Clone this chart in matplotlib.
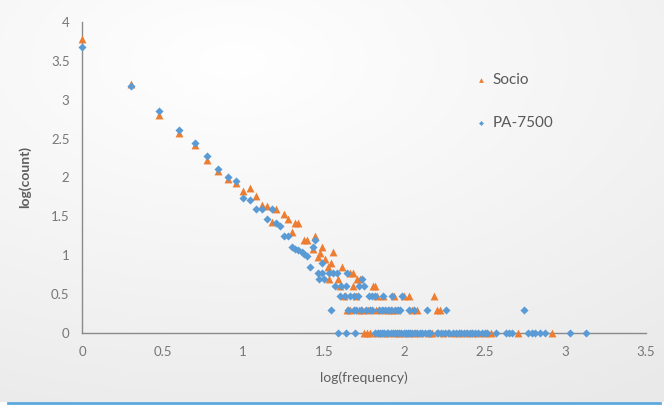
import numpy as np
import matplotlib
matplotlib.use("Agg")
import matplotlib.pyplot as plt
from matplotlib.lines import Line2D

plt.rcParams["font.family"] = ["Lato", "DejaVu Sans"]

# sloped part of each series (log(frequency), log(count))
socio_top_x = [0.0, 0.301, 0.477, 0.602, 0.699, 0.778, 0.845, 0.903, 0.954,
               0.997, 1.041, 1.079, 1.114, 1.146, 1.176, 1.204, 1.255, 1.279,
               1.301, 1.322, 1.342, 1.380, 1.398, 1.431, 1.447, 1.462, 1.477,
               1.491, 1.505, 1.544, 1.556]
socio_top_y = [3.78, 3.20, 2.81, 2.57, 2.42, 2.23, 2.08, 1.98, 1.93,
               1.83, 1.86, 1.76, 1.64, 1.63, 1.43, 1.59, 1.53, 1.46,
               1.30, 1.41, 1.41, 1.20, 1.20, 1.08, 1.25, 0.98, 1.03,
               1.11, 0.95, 0.90, 1.04]

pa_top_x = [0.0, 0.301, 0.477, 0.602, 0.699, 0.778, 0.845, 0.903, 0.954,
            0.997, 1.041, 1.079, 1.114, 1.146, 1.176, 1.204, 1.230, 1.255,
            1.279, 1.301, 1.322, 1.342, 1.362, 1.380, 1.398, 1.431, 1.447,
            1.415, 1.488]
pa_top_y = [3.68, 3.18, 2.86, 2.61, 2.45, 2.27, 2.11, 2.01, 1.95,
            1.73, 1.71, 1.59, 1.59, 1.46, 1.59, 1.41, 1.38, 1.25,
            1.25, 1.11, 1.08, 1.07, 1.04, 1.02, 0.99, 1.10, 1.20,
            0.845, 0.90]

# flat rows at low counts: log(count) level and the log(frequency) of each point
levels = [0.845, 0.778, 0.699, 0.602, 0.477, 0.301, 0.0]

socio_rows_x = [
    [1.525, 1.613],
    [1.663, 1.681],
    [1.531, 1.591, 1.708, 1.724],
    [1.602, 1.684, 1.806, 1.820],
    [1.623, 1.699, 1.833, 1.869, 1.934, 1.996, 2.029, 2.185],
    [1.643, 1.663, 1.720, 1.740, 1.777, 1.825, 1.867, 1.907, 1.922, 1.957,
     2.046, 2.078, 2.204, 2.222],
    [1.750, 1.770, 1.790, 1.830, 1.870, 1.900, 1.940, 1.970, 2.000, 2.030,
     2.060, 2.100, 2.150, 2.170, 2.240, 2.300, 2.340, 2.380, 2.420, 2.460,
     2.500, 2.540, 2.705, 2.915],
]

pa_rows_x = [
    [],
    [1.462, 1.491, 1.531, 1.556, 1.580, 1.643],
    [1.470, 1.500, 1.736],
    [1.570, 1.605, 1.640, 1.720, 1.750],
    [1.600, 1.630, 1.660, 1.690, 1.710, 1.780, 1.800, 1.820, 1.870, 1.925,
     1.985],
    [1.545, 1.650, 1.690, 1.700, 1.730, 1.760, 1.790, 1.800, 1.840, 1.860,
     1.880, 1.900, 1.920, 1.945, 1.960, 1.975, 2.030, 2.060, 2.140, 2.260,
     2.740],
    [1.587, 1.640, 1.695, 1.820, 1.835, 1.850, 1.860, 1.875, 1.890, 1.900,
     1.915, 1.930, 1.940, 1.955, 1.970, 1.980, 1.995, 2.010, 2.020, 2.035,
     2.050, 2.065, 2.080, 2.100, 2.110, 2.130, 2.145, 2.160, 2.200, 2.210,
     2.230, 2.250, 2.270, 2.280, 2.300, 2.320, 2.340, 2.350, 2.370, 2.390,
     2.410, 2.420, 2.440, 2.460, 2.480, 2.500, 2.510, 2.570, 2.630, 2.650,
     2.670, 2.765, 2.790, 2.810, 2.840, 2.875, 3.030, 3.126],
]

x_ticks = [0, 0.5, 1, 1.5, 2, 2.5, 3, 3.5]
y_ticks = [0, 0.5, 1, 1.5, 2, 2.5, 3, 3.5, 4]


def collect(top_x, top_y, rows_x):
    xs = list(top_x)
    ys = list(top_y)
    for level, row in zip(levels, rows_x):
        xs.extend(row)
        ys.extend([level] * len(row))
    return np.array(xs), np.array(ys)


socio_x, socio_y = collect(socio_top_x, socio_top_y, socio_rows_x)
pa_x, pa_y = collect(pa_top_x, pa_top_y, pa_rows_x)

fig = plt.figure(figsize=(6.64, 4.07), dpi=100)
fig.patch.set_facecolor("white")

# soft background gradient behind the chart
bg = fig.add_axes([0, 0.0125, 1, 0.9875], zorder=-10)
yy, xx = np.mgrid[0:1:200j, 0:1:300j]
dist = np.sqrt(((xx - 0.35) / 1.1) ** 2 + ((yy - 0.15) / 1.0) ** 2)
shade = 1.0 - 0.085 * np.clip(dist, 0, 1)
bg.imshow(np.dstack([shade, shade, shade]), aspect="auto",
          extent=[0, 1, 0, 1], origin="upper")
bg.set_axis_off()

ax = fig.add_axes([0.1235, 0.1818, 0.8495, 0.7642])
ax.patch.set_alpha(0)

ax.scatter(socio_x, socio_y, marker="^", s=32, color="#ED7D31",
           linewidths=0, label="Socio", clip_on=False, zorder=3)
ax.scatter(pa_x, pa_y, marker="D", s=17, color="#5B9BD5",
           linewidths=0, label="PA-7500", clip_on=False, zorder=4)

ax.set_xlim(0, 3.5)
ax.set_ylim(0, 4)
ax.set_xticks(x_ticks)
ax.set_yticks(y_ticks)
ax.set_xticklabels([f"{t:g}" for t in x_ticks])
ax.set_yticklabels([f"{t:g}" for t in y_ticks])
ax.tick_params(length=0, labelsize=9.5, colors="#767676", pad=9)

for side in ("top", "right"):
    ax.spines[side].set_visible(False)
for side in ("left", "bottom"):
    ax.spines[side].set_color("#8a8a8a")
    ax.spines[side].set_linewidth(1.0)

ax.set_xlabel("log(frequency)", fontsize=10, color="#5f5f5f", labelpad=10)
ax.set_ylabel("log(count)", fontsize=10, color="#5f5f5f",
              fontweight="bold", labelpad=14)

leg = ax.legend(loc="upper left", bbox_to_anchor=(0.70, 0.835),
                frameon=False, fontsize=11, handlelength=0.5,
                handletextpad=0.5, labelspacing=1.85, borderpad=0,
                borderaxespad=0, markerscale=0.6)
for text in leg.get_texts():
    text.set_color("#595959")

fig.add_artist(Line2D([0.012, 0.994], [0.0098, 0.0098], color="#5BA8DC",
                      linewidth=2.0, transform=fig.transFigure))

fig.savefig("out.png", dpi=100, facecolor=fig.get_facecolor())
